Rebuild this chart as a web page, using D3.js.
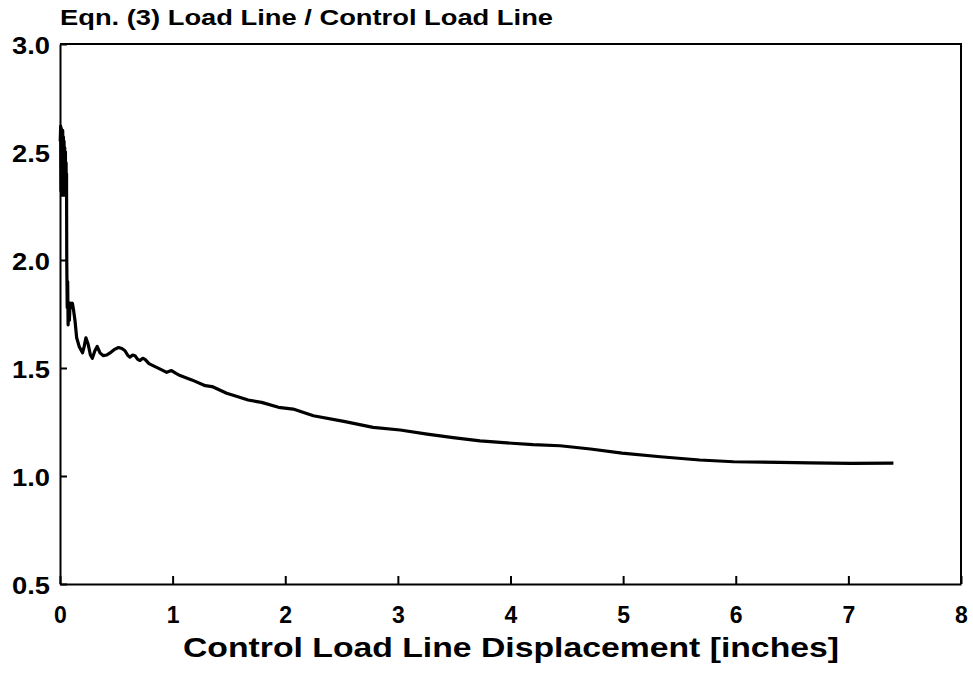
<!DOCTYPE html>
<html>
<head>
<meta charset="utf-8">
<script src="https://cdn.jsdelivr.net/npm/d3@7"></script>
<style>
  body { margin: 0; background: #fff; }
  svg { display: block; }
  text { font-family: "Liberation Sans", Arial, Helvetica, sans-serif; font-weight: bold; fill: #000; }
  .axis path, .axis line { stroke: #000; stroke-width: 2; }
</style>
</head>
<body>
<div id="chart"></div>
<script>
// displacement [inches]
var displacement = [0.002, 0.006, 0.009, 0.012, 0.015, 0.018, 0.021, 0.024, 0.027, 0.030, 0.033,
  0.036, 0.039, 0.042, 0.045, 0.048, 0.051, 0.054, 0.056, 0.058, 0.060, 0.064, 0.068, 0.072, 0.077,
  0.083, 0.090, 0.100, 0.110, 0.120, 0.133, 0.148, 0.170, 0.200, 0.215, 0.230, 0.250, 0.270,
  0.287, 0.310, 0.330, 0.355, 0.385, 0.415, 0.444, 0.480, 0.520, 0.550, 0.577, 0.600, 0.620,
  0.645, 0.666, 0.690, 0.710, 0.735, 0.755, 0.790, 0.830, 0.890, 0.947, 0.990, 1.030, 1.066,
  1.170, 1.290, 1.350, 1.480, 1.580, 1.670, 1.790, 1.940, 2.070, 2.250, 2.520, 2.780, 3.020,
  3.260, 3.490, 3.730, 3.970, 4.200, 4.440, 4.710, 4.990, 5.330, 5.680, 5.980, 6.390, 6.660,
  7.020, 7.400];

// Eqn. (3) load line / control load line
var loadRatio = [2.55, 2.62, 2.32, 2.61, 2.30, 2.58, 2.33, 2.60, 2.30, 2.57, 2.32,
  2.55, 2.30, 2.52, 2.33, 2.50, 2.31, 2.45, 2.30, 2.40, 2.00, 1.78, 1.90, 1.70, 1.78,
  1.72, 1.80, 1.78, 1.80, 1.77, 1.72, 1.64, 1.60, 1.57, 1.60, 1.64, 1.61, 1.56,
  1.545, 1.58, 1.60, 1.57, 1.557, 1.56, 1.57, 1.585, 1.595, 1.59, 1.58, 1.56, 1.55,
  1.56, 1.557, 1.54, 1.535, 1.545, 1.54, 1.52, 1.51, 1.495, 1.48, 1.488, 1.475, 1.465,
  1.445, 1.418, 1.414, 1.383, 1.367, 1.352, 1.341, 1.318, 1.31, 1.279, 1.253, 1.225, 1.213,
  1.194, 1.178, 1.163, 1.153, 1.145, 1.14, 1.125, 1.106, 1.089, 1.074, 1.066, 1.063, 1.061,
  1.058, 1.06];

var xTicks = [0, 1, 2, 3, 4, 5, 6, 7, 8];
var yTicks = [0.5, 1.0, 1.5, 2.0, 2.5, 3.0];

var WIDTH = 973,
    HEIGHT = 679,
    MARGINS = {top: 44, right: 12, bottom: 95, left: 60};

var data = displacement.map(function(d, i) { return {x: d, y: loadRatio[i]}; });

var xScale = d3.scaleLinear().domain([0, 8]).range([MARGINS.left, WIDTH - MARGINS.right]);
var yScale = d3.scaleLinear().domain([0.5, 3.0]).range([HEIGHT - MARGINS.bottom, MARGINS.top]);

var svg = d3.select("#chart").append("svg")
  .attr("width", WIDTH)
  .attr("height", HEIGHT);

// frame (top and right sides)
svg.append("path")
  .attr("d", "M" + xScale(0) + "," + yScale(3) + "H" + xScale(8) + "V" + yScale(0.5))
  .attr("fill", "none")
  .attr("stroke", "#000")
  .attr("stroke-width", 2);

var xAxis = d3.axisBottom(xScale)
  .tickValues(xTicks)
  .tickFormat(d3.format("d"))
  .tickSizeInner(-8)
  .tickSizeOuter(0)
  .tickPadding(23);

var yAxis = d3.axisLeft(yScale)
  .tickValues(yTicks)
  .tickFormat(d3.format(".1f"))
  .tickSizeInner(-7)
  .tickSizeOuter(0)
  .tickPadding(10);

var gx = svg.append("g")
  .attr("class", "x axis")
  .attr("transform", "translate(0," + yScale(0.5) + ")")
  .call(xAxis);
gx.selectAll("text")
  .style("font-size", "23px")
  .attr("fill", "#000");

var gy = svg.append("g")
  .attr("class", "y axis")
  .attr("transform", "translate(" + xScale(0) + ",0)")
  .call(yAxis);
gy.selectAll("text")
  .style("font-size", "23px")
  .attr("fill", "#000")
  .attr("dy", "0.42em")
  .attr("textLength", 38)
  .attr("lengthAdjust", "spacingAndGlyphs");

var lineFunc = d3.line()
  .x(function(d) { return xScale(d.x); })
  .y(function(d) { return yScale(d.y); });

svg.append("path")
  .attr("d", lineFunc(data))
  .attr("fill", "none")
  .attr("stroke", "#000")
  .attr("stroke-width", 3.2)
  .attr("stroke-linejoin", "round");

// titles
svg.append("text")
  .attr("x", 60)
  .attr("y", 25)
  .style("font-size", "22px")
  .attr("textLength", 493)
  .attr("lengthAdjust", "spacingAndGlyphs")
  .text("Eqn. (3) Load Line / Control Load Line");

svg.append("text")
  .attr("x", 183)
  .attr("y", 657)
  .style("font-size", "28px")
  .attr("textLength", 656)
  .attr("lengthAdjust", "spacingAndGlyphs")
  .text("Control Load Line Displacement [inches]");
</script>
</body>
</html>
